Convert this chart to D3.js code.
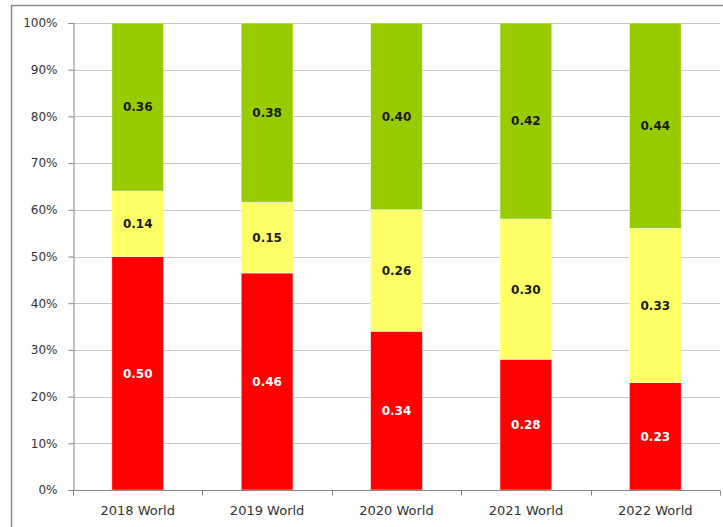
<!DOCTYPE html>
<html>
<head>
<meta charset="utf-8">
<script src="https://cdn.jsdelivr.net/npm/d3@7/dist/d3.min.js"></script>
<style>
  html, body { margin: 0; padding: 0; background: #fff; }
  svg { display: block; }
</style>
</head>
<body>
<svg id="chart" width="723" height="527"></svg>
<script>
// Categories and the three stacked shares per year
const categories = ["2018 World", "2019 World", "2020 World", "2021 World", "2022 World"];
const redValues    = [0.50, 0.46, 0.34, 0.28, 0.23];
const yellowValues = [0.14, 0.15, 0.26, 0.30, 0.33];
const greenValues  = [0.36, 0.38, 0.40, 0.42, 0.44];
const yTicks = [0, 0.1, 0.2, 0.3, 0.4, 0.5, 0.6, 0.7, 0.8, 0.9, 1.0];

const seriesKeys = ["red", "yellow", "green"];
const seriesColors = { red: "#ff0000", yellow: "#ffff66", green: "#99cc00" };
const labelColors = { red: "#ffffff", yellow: "#1a1a1a", green: "#1a1a1a" };

const rows = categories.map((c, i) => ({
  category: c, red: redValues[i], yellow: yellowValues[i], green: greenValues[i]
}));

const svg = d3.select("#chart");
const margin = { left: 73, right: 3, top: 23, bottom: 37 };
const W = 723, H = 527;

// outer chart frame
svg.append("rect")
  .attr("x", 11.5).attr("y", 5.5)
  .attr("width", W + 20).attr("height", H + 20)
  .attr("fill", "#fff").attr("stroke", "#8c8c8c").attr("stroke-width", 1.5);

const x = d3.scaleBand().domain(categories)
  .range([margin.left, W - margin.right]).paddingInner(0.6).paddingOuter(0.3);
const y = d3.scaleLinear().domain([0, 1]).range([H - margin.bottom, margin.top]);

// gridlines
svg.append("g").selectAll("line").data(yTicks.slice(1)).join("line")
  .attr("x1", margin.left).attr("x2", W - margin.right)
  .attr("y1", d => Math.round(y(d)) + 0.5).attr("y2", d => Math.round(y(d)) + 0.5)
  .attr("stroke", "#c8c8c8").attr("stroke-width", 1);

// 100% stacking
const stack = d3.stack().keys(seriesKeys).offset(d3.stackOffsetExpand);
const layers = stack(rows);

const g = svg.append("g");
layers.forEach(layer => {
  const key = layer.key;
  g.append("g").selectAll("rect").data(layer).join("rect")
    .attr("x", d => x(d.data.category))
    .attr("width", x.bandwidth())
    .attr("y", d => y(d[1]))
    .attr("height", d => y(d[0]) - y(d[1]))
    .attr("fill", seriesColors[key])
    .attr("stroke", "#ffffff").attr("stroke-opacity", 0.6).attr("stroke-width", 0.8);

  g.append("g").selectAll("text").data(layer).join("text")
    .attr("x", d => x(d.data.category) + x.bandwidth() / 2)
    .attr("y", d => (y(d[0]) + y(d[1])) / 2)
    .attr("dy", "0.36em")
    .attr("text-anchor", "middle")
    .attr("font-family", "DejaVu Sans, Verdana, sans-serif")
    .attr("font-size", 12).attr("font-weight", "bold")
    .attr("fill", labelColors[key])
    .text(d => d.data[key].toFixed(2));
});

// y axis
const yAxis = d3.axisLeft(y).tickValues(yTicks).tickSize(5).tickPadding(11)
  .tickFormat(d3.format(".0%"));
const yg = svg.append("g").attr("transform", `translate(${margin.left + 0.5},0)`).call(yAxis);
yg.select(".domain").attr("stroke", "#868686");
yg.selectAll(".tick line").attr("stroke", "#868686");
yg.selectAll(".tick text").attr("font-family", "DejaVu Sans, Verdana, sans-serif")
  .attr("font-size", 12).attr("fill", "#333");

// x axis
const xAxis = d3.axisBottom(x).tickSize(0).tickPadding(15);
const xg = svg.append("g").attr("transform", `translate(0,${Math.round(y(0)) + 0.5})`).call(xAxis);
xg.select(".domain").attr("stroke", "#868686")
  .attr("d", `M${margin.left},0H${W - margin.right}`);
xg.selectAll(".tick text").attr("font-family", "DejaVu Sans, Verdana, sans-serif")
  .attr("font-size", 13).attr("fill", "#333");
// category separators below the axis
const step = x.step();
const bounds = d3.range(categories.length + 1).map(i => margin.left + i * (W - margin.right - margin.left) / categories.length);
xg.append("g").selectAll("line").data(bounds).join("line")
  .attr("x1", d => Math.round(d) + 0.5).attr("x2", d => Math.round(d) + 0.5)
  .attr("y1", 0).attr("y2", 5).attr("stroke", "#868686");
</script>
</body>
</html>
